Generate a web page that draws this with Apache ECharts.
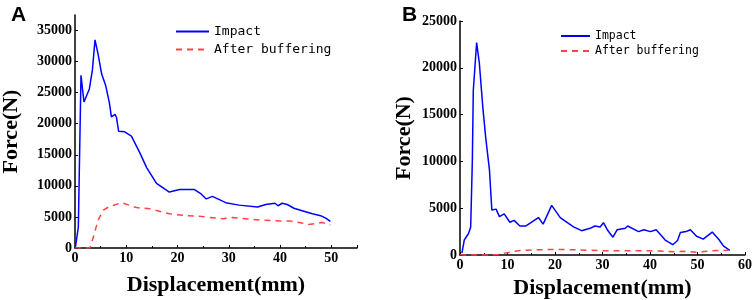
<!DOCTYPE html>
<html>
<head>
<meta charset="utf-8">
<script src="https://cdn.jsdelivr.net/npm/echarts@6/dist/echarts.min.js"></script>
<style>
  body { margin: 0; background: #fff; }
  #myChart { width: 754px; height: 300px; }
</style>
</head>
<body>
<div id="myChart"></div>
<script>
// panel A
const dispA = [0.1, 0.65, 1.17, 1.75, 2.8, 3.4, 3.9, 4.5, 5.2, 6.0, 6.7, 7.1, 7.8, 8.1, 8.5, 9.7, 11, 12.6, 14, 15.9, 18.4, 20.4, 23.3, 24.6, 25.6, 26.8, 29.4, 32, 35.6, 37.2, 39, 39.6, 40.4, 41.4, 42.7, 44.3, 46.3, 47.9, 48.9, 49.8]
const impactA = [200, 3400, 27800, 23500, 25600, 28700, 33500, 31200, 28000, 26100, 23400, 21100, 21500, 21000, 18800, 18700, 18000, 15400, 12900, 10400, 9000, 9400, 9400, 8700, 7900, 8300, 7300, 6900, 6600, 7000, 7200, 6800, 7200, 7000, 6400, 6000, 5500, 5200, 4800, 4300]
const dispBufA = [0, 1.9, 2.9, 3.6, 4.5, 5.5, 6.8, 9.1, 12, 14.6, 18.4, 21.7, 24.3, 28.8, 30.7, 35.9, 42.4, 45.6, 48.2, 49.8]
const bufferA = [0, 0, 0, 1800, 4500, 6100, 6700, 7300, 6500, 6300, 5500, 5200, 5100, 4700, 4900, 4500, 4300, 3800, 4100, 3700]

// panel B
const dispB = [0.4, 0.9, 1.8, 2.25, 2.6, 2.8, 3.5, 4.07, 4.8, 5.4, 6.2, 6.7, 7.0, 7.6, 8.3, 9.3, 10.5, 11.4, 12.6, 13.9, 16.5, 17.5, 19.3, 21.1, 23.9, 25.6, 27.4, 28.4, 29.5, 30.2, 31, 32.2, 33.1, 34.8, 35.3, 37.6, 38.7, 40.1, 41.3, 43.2, 44.8, 45.8, 46.4, 47.6, 48.5, 49.8, 51.2, 53.1, 54.5, 55.5, 56.8]
const impactB = [200, 1600, 2300, 3000, 10100, 17600, 22700, 20500, 15800, 12600, 9100, 4800, 4800, 4900, 4100, 4400, 3500, 3700, 3100, 3100, 4000, 3300, 5300, 4000, 3000, 2600, 2850, 3100, 3000, 3450, 2700, 1900, 2700, 2850, 3100, 2500, 2700, 2500, 2700, 1600, 1100, 1550, 2400, 2500, 2700, 2000, 1700, 2450, 1650, 950, 500]
const dispBufB = [0, 3, 6, 8, 9.5, 11, 13, 16, 20, 25, 30, 35, 40, 45, 47, 50, 53, 56.5]
const bufferB = [0, 0, 0, 50, 200, 350, 500, 550, 600, 550, 450, 450, 450, 350, 400, 300, 450, 500]

const seriesNames = ['Impact', 'After buffering']

function pairs (xs, ys) {
  return xs.map((x, i) => [x, ys[i]])
}

const serif = '"Liberation Serif", "DejaVu Serif", serif'
const mono = '"DejaVu Sans Mono", "Liberation Mono", monospace'
const plain = v => String(v)

function xAxisOf (idx, max, gap) {
  return {
    gridIndex: idx,
    type: 'value',
    min: 0,
    max: max,
    interval: 10,
    name: 'Displacement(mm)',
    nameLocation: 'middle',
    nameGap: gap,
    nameTextStyle: { fontFamily: serif, fontWeight: 'bold', fontSize: 22, color: '#000' },
    axisLine: { lineStyle: { color: '#000', width: 1.5 } },
    axisTick: { inside: true, length: 3, lineStyle: { color: '#000' } },
    minorTick: { show: true, splitNumber: 2, length: 2, lineStyle: { color: '#000' } },
    splitLine: { show: false },
    axisLabel: { formatter: plain, showMaxLabel: max === 60, margin: 3, fontFamily: serif, fontWeight: 'bold', fontSize: 14, color: '#000' }
  }
}

function yAxisOf (idx, max, gap) {
  return {
    gridIndex: idx,
    type: 'value',
    min: 0,
    max: max,
    interval: 5000,
    name: 'Force(N)',
    nameLocation: 'middle',
    nameGap: gap,
    nameTextStyle: { fontFamily: serif, fontWeight: 'bold', fontSize: 22, color: '#000' },
    axisLine: { show: true, lineStyle: { color: '#000', width: 1.5 } },
    axisTick: { show: true, inside: true, length: 3, lineStyle: { color: '#000' } },
    splitLine: { show: false },
    axisLabel: { formatter: plain, showMaxLabel: max === 25000, margin: 3, fontFamily: serif, fontWeight: 'bold', fontSize: 14, color: '#000' }
  }
}

function lineOf (name, data, idx, color, dashed) {
  return {
    name: name,
    type: 'line',
    xAxisIndex: idx,
    yAxisIndex: idx,
    symbol: 'none',
    data: data,
    lineStyle: { color: color, width: 1.5, type: dashed ? [6, 5] : 'solid' },
    itemStyle: { color: color }
  }
}

let myChart = echarts.init(document.getElementById('myChart'), null, { renderer: 'canvas' })
myChart.setOption({
  animation: false,
  title: [
    { text: 'A', left: 6, top: 0, textStyle: { fontFamily: '"Liberation Sans", Arial', fontWeight: 'bold', fontSize: 21, color: '#000' } },
    { text: 'B', left: 397, top: 0, textStyle: { fontFamily: '"Liberation Sans", Arial', fontWeight: 'bold', fontSize: 21, color: '#000' } }
  ],
  legend: [
    {
      data: seriesNames,
      orient: 'vertical',
      left: 170,
      top: 20,
      itemWidth: 33,
      itemHeight: 14,
      itemGap: 5,
      itemStyle: { opacity: 0 },
      textStyle: { fontFamily: mono, fontSize: 13, color: '#000' }
    },
    {
      data: seriesNames,
      orient: 'vertical',
      left: 555,
      top: 25,
      itemWidth: 29,
      itemHeight: 12,
      itemGap: 3,
      itemStyle: { opacity: 0 },
      textStyle: { fontFamily: mono, fontSize: 11.5, color: '#000' }
    }
  ],
  grid: [
    { left: 75, top: 15, width: 282, height: 233, outerBoundsMode: 'none' },
    { left: 460, top: 21, width: 285, height: 234, outerBoundsMode: 'none' }
  ],
  xAxis: [xAxisOf(0, 55, 26), xAxisOf(1, 60, 22)],
  yAxis: [yAxisOf(0, 37500, 53), yAxisOf(1, 25000, 45)],
  series: [
    lineOf(seriesNames[0], pairs(dispA, impactA), 0, '#0000ff', false),
    lineOf(seriesNames[1], pairs(dispBufA, bufferA), 0, '#ff4444', true),
    lineOf(seriesNames[0], pairs(dispB, impactB), 1, '#0000ff', false),
    lineOf(seriesNames[1], pairs(dispBufB, bufferB), 1, '#ff4444', true)
  ]
})
</script>
</body>
</html>
